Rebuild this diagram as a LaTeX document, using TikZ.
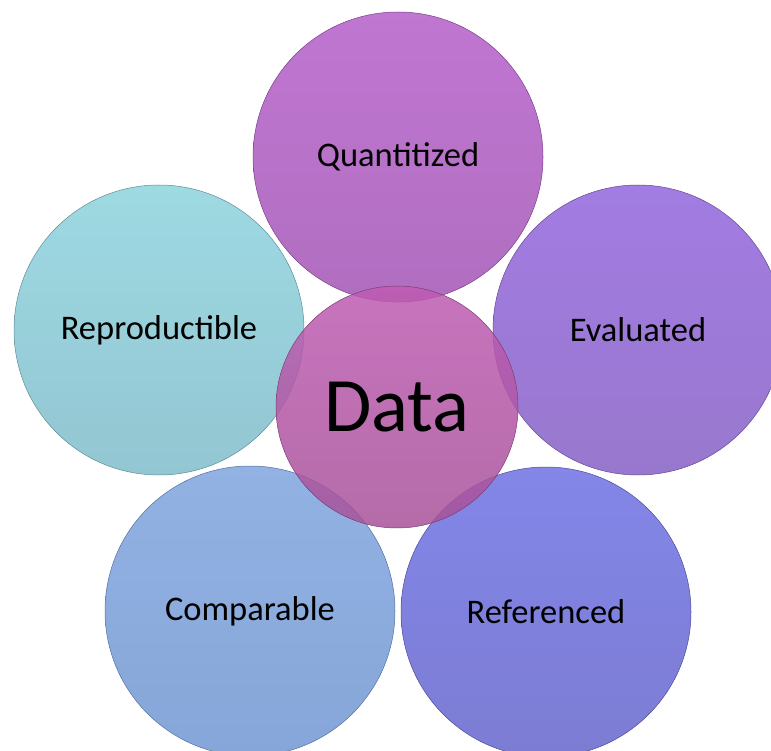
\documentclass[tikz,border=0pt]{standalone}
\usepackage{fontspec}
\setmainfont{Carlito}
\definecolor{qT}{RGB}{181,94,202}\definecolor{qB}{RGB}{162,85,181}
\definecolor{rT}{RGB}{141,211,221}\definecolor{rB}{RGB}{127,188,202}
\definecolor{eT}{RGB}{146,101,221}\definecolor{eB}{RGB}{134,96,197}
\definecolor{cT}{RGB}{127,164,223}\definecolor{cB}{RGB}{113,150,209}
\definecolor{fT}{RGB}{110,113,228}\definecolor{fB}{RGB}{101,101,204}
\definecolor{dT}{RGB}{190,91,178}\definecolor{dB}{RGB}{167,82,153}
\begin{document}
\begin{tikzpicture}[x=1pt,y=-1pt,
  bubble/.style={circle, inner sep=0pt, minimum size=290pt, fill opacity=0.85,
    text opacity=1, line width=0.5pt, font=\fontsize{34.5}{40}\selectfont},
  hub/.style={bubble, minimum size=242pt, font=\fontsize{77}{84}\selectfont}]
\useasboundingbox (0,0) rectangle (771,751);
\clip (0,0) rectangle (771,751);
\node[bubble, top color=qT, bottom color=qB, draw=qB!75!black] (q) at (398,157) {Quantitized};
\node[bubble, top color=rT, bottom color=rB, draw=rB!75!black] (rep) at (159,330) {Reproductible};
\node[bubble, top color=eT, bottom color=eB, draw=eB!75!black] (ev) at (638,330) {Evaluated};
\node[bubble, top color=cT, bottom color=cB, draw=cB!75!black] (comp) at (250,611) {Comparable};
\node[bubble, top color=fT, bottom color=fB, draw=fB!75!black] (ref) at (546,612) {Referenced};
\node[hub, top color=dT, bottom color=dB, draw=dB!75!black] (data) at (397,407) {Data};
\end{tikzpicture}
\end{document}
